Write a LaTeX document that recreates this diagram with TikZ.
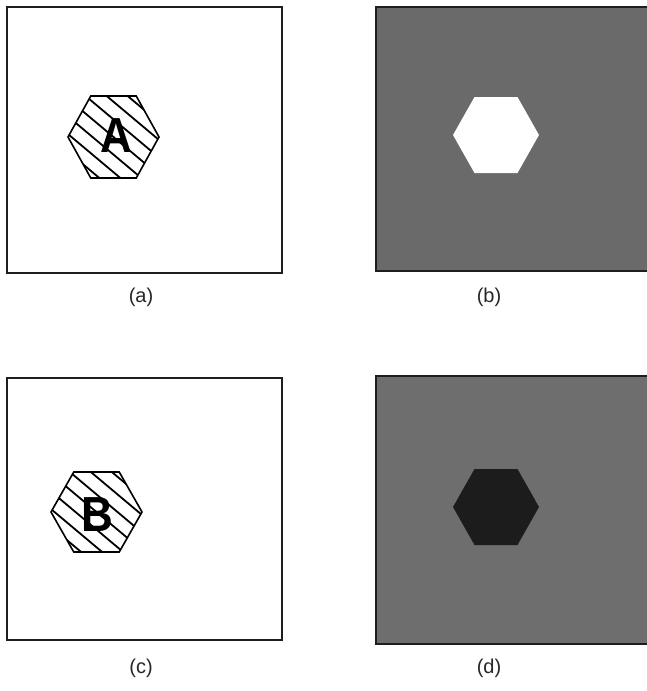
\documentclass[tikz,border=0pt]{standalone}
\usepackage{fontspec}
\setmainfont{Liberation Sans}
\usetikzlibrary{calc}
\definecolor{frameC}{HTML}{1E1E1E}
\definecolor{grayB}{HTML}{6A6A6A}
\definecolor{grayD}{HTML}{6E6E6E}
\definecolor{hexD}{HTML}{1C1C1C}
\tikzset{
  panel/.style={draw=frameC, line width=2pt},
  caption/.style={font=\fontsize{20}{24}\selectfont, text=black!85},
  letter/.style={font=\fontsize{44}{44}\selectfont\bfseries, text=black, yscale=1.12},
  hexline/.style={draw=black, line width=1.6pt, line join=miter},
  hatch/.style={draw=black, line width=1.8pt}
}
\newcommand{\hexpath}[4]{(#1-#3,#2) -- (#1-#3/2,#2-#4) -- (#1+#3/2,#2-#4) -- (#1+#3,#2) -- (#1+#3/2,#2+#4) -- (#1-#3/2,#2+#4) -- cycle}
\begin{document}
\begin{tikzpicture}[x=1pt,y=-1pt]
\useasboundingbox (0,0) rectangle (646,691);
\fill[white] (0,0) rectangle (646,691);
% panel a
\draw[panel, fill=white] (7,7) rectangle (282,273);
\begin{scope}
  \clip \hexpath{113.5}{137}{45.5}{41};
  \foreach \k in {-8,...,8} {
    \draw[hatch] ($(113.5,137)+({\k*13.5*sin(40)},{-\k*13.5*cos(40)})$) ++({-100*cos(40)},{-100*sin(40)}) -- ++({200*cos(40)},{200*sin(40)});
  }
\end{scope}
\draw[hexline] \hexpath{113.5}{137}{45.5}{41};
\node[letter] (la) at (116,136) {A};
\node[caption] (ca) at (141,297) {(a)};
% panel b
\draw[panel, fill=grayB] (376,7) rectangle (648,271);
\fill[white] \hexpath{496}{135}{43}{38};
\node[caption] (cb) at (489,297) {(b)};
% panel c
\draw[panel, fill=white] (7,378) rectangle (282,640);
\begin{scope}
  \clip \hexpath{96.5}{512}{45.5}{40};
  \foreach \k in {-8,...,8} {
    \draw[hatch] ($(96.5,512)+({\k*13.5*sin(40)},{-\k*13.5*cos(40)})$) ++({-100*cos(40)},{-100*sin(40)}) -- ++({200*cos(40)},{200*sin(40)});
  }
\end{scope}
\draw[hexline] \hexpath{96.5}{512}{45.5}{40};
\node[letter] (lc) at (97,515) {B};
\node[caption] (cc) at (141,668) {(c)};
% panel d
\draw[panel, fill=grayD] (376,376) rectangle (648,644);
\fill[hexD] \hexpath{496}{507}{43}{38};
\node[caption] (cd) at (489,668) {(d)};
\end{tikzpicture}
\end{document}
